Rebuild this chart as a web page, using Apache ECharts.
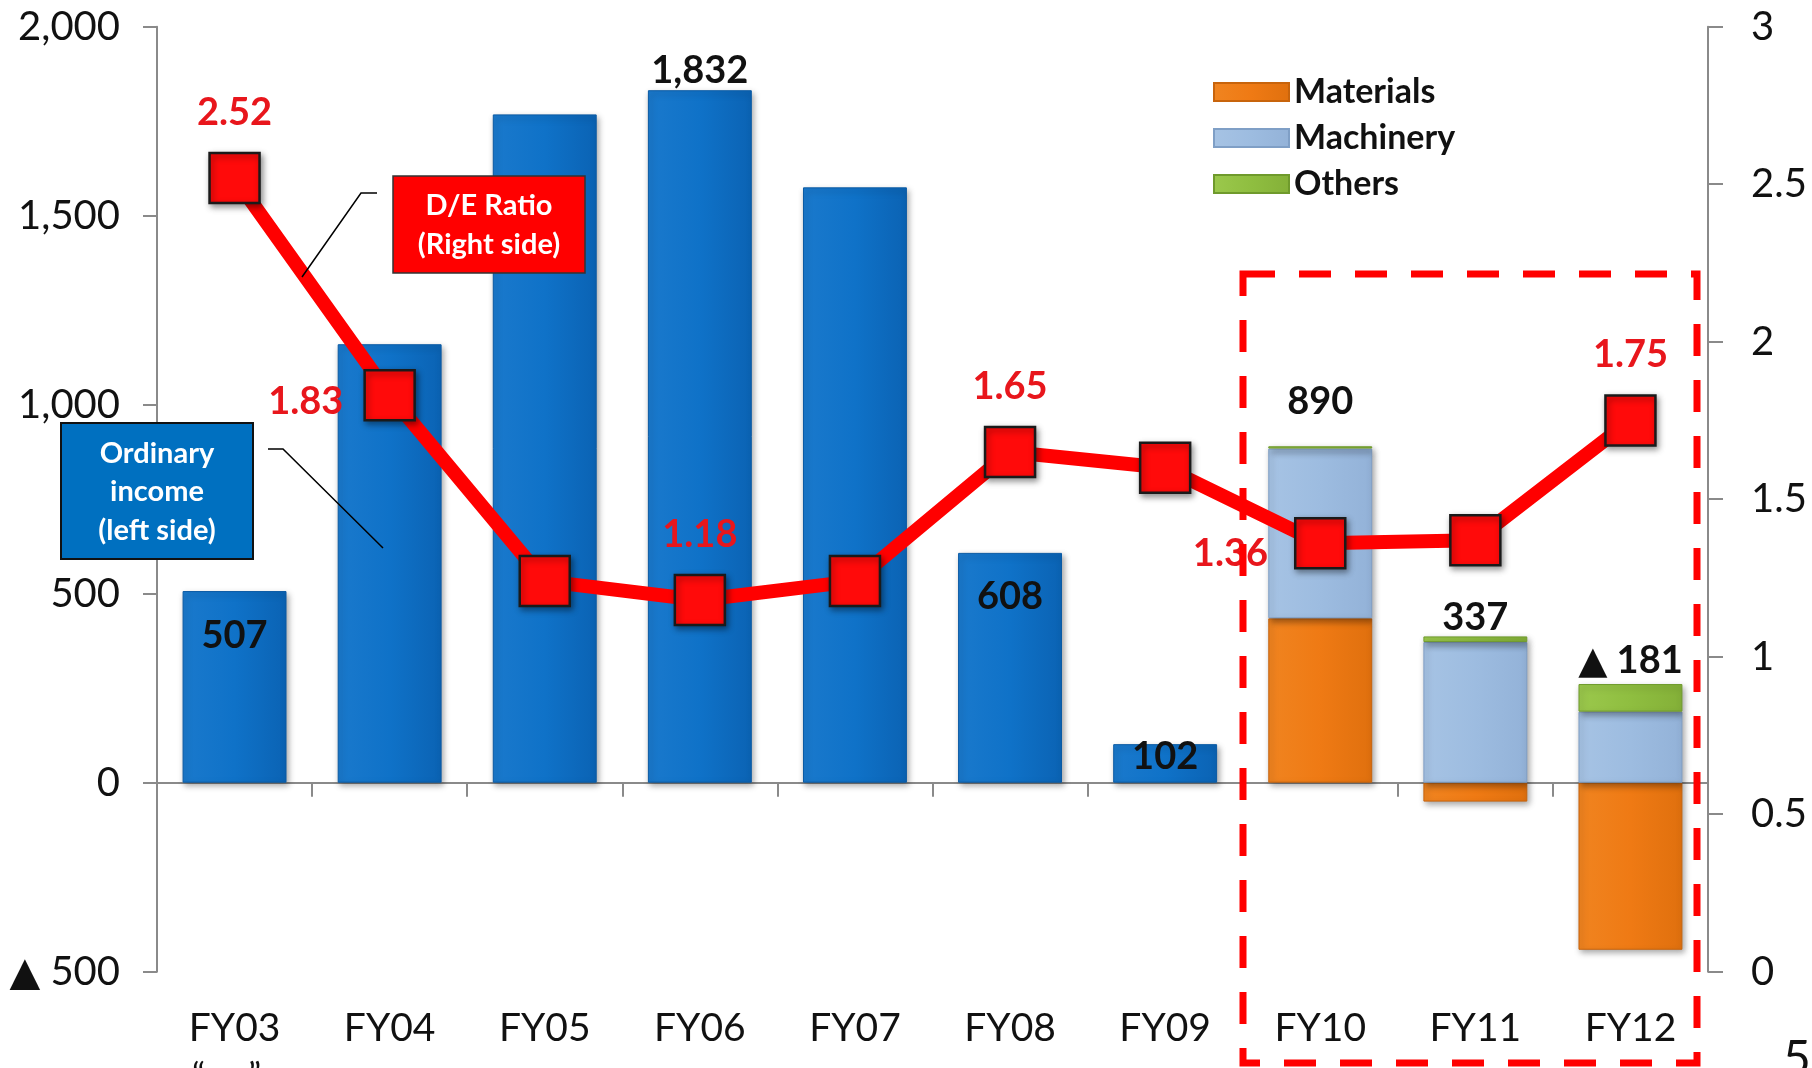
<!DOCTYPE html>
<html>
<head>
<meta charset="utf-8">
<script src="https://cdn.jsdelivr.net/npm/echarts@6/dist/echarts.min.js"></script>
<style>
html,body{margin:0;padding:0;background:#fff;}
#chart{width:1812px;height:1068px;}
</style>
</head>
<body>
<div id="chart"></div>
<script>
// ---- data ----
const categories = ['FY03','FY04','FY05','FY06','FY07','FY08','FY09','FY10','FY11','FY12'];
const ordinaryIncome = [507, 1160, 1768, 1832, 1575, 608, 102, null, null, null];
const materials = [null, null, null, null, null, null, null, 435, -50, -442];
const machinery = [null, null, null, null, null, null, null, 449, 372, 188];
const others    = [null, null, null, null, null, null, null, 6, 15, 73];
const totals    = [null, null, null, null, null, null, null, 890, 337, -181];
const deRatio   = [2.52, 1.83, 1.24, 1.18, 1.24, 1.65, 1.60, 1.36, 1.37, 1.75];
const leftAxisRange = [-500, 2000, 500];
const rightAxisRange = [0, 3, 0.5];

// label placement (style only)
const incomeLabelCfg = {
  0: {position: 'insideTop', distance: 26},
  3: {position: 'top', distance: 0},
  5: {position: 'insideTop', distance: 25},
  6: {position: 'insideTop', distance: -6}
};
const totalLabelCfg = {
  7: {distance: 26},
  8: {distance: 0},
  9: {distance: 4}
};
const deLabelCfg = {
  0: {position: 'top', distance: 20},
  1: {position: 'left', distance: 20, offset: [0, 6]},
  3: {position: 'top', distance: 20},
  5: {position: 'top', distance: 20},
  7: {position: 'left', distance: 26, offset: [0, 10]},
  9: {position: 'top', distance: 20}
};

const FONT = 'Lato, "DejaVu Sans", sans-serif';
const fmtComma = v => String(v).replace(/\B(?=(\d{3})+(?!\d))/g, ',');
const fmtTri = v => v < 0 ? '\u25B2 ' + fmtComma(Math.abs(v)) : fmtComma(v);

const barShadow = {shadowBlur: 6, shadowColor: 'rgba(0,0,0,0.35)', shadowOffsetX: 2, shadowOffsetY: 3};
const barLabelBase = {fontFamily: FONT, fontSize: 38, fontWeight: 'bold', color: '#111'};

function hGrad(c0, c1, c2) {
  return new echarts.graphic.LinearGradient(0, 0, 1, 0, [
    {offset: 0, color: c0}, {offset: 0.5, color: c1}, {offset: 1, color: c2}
  ]);
}

const incomeData = ordinaryIncome.map((v, i) => {
  const c = incomeLabelCfg[i];
  if (v == null) return '-';
  if (!c) return v;
  return {value: v, label: Object.assign({show: true, formatter: p => fmtComma(p.value)}, barLabelBase, c)};
});
const othersData = others.map((v, i) => {
  if (v == null) return '-';
  const c = totalLabelCfg[i];
  return {value: v, label: Object.assign({show: true, position: 'top', formatter: () => fmtTri(totals[i])}, barLabelBase, c)};
});
const deData = deRatio.map((v, i) => {
  const c = deLabelCfg[i];
  if (!c) return v;
  return {value: v, label: Object.assign({show: true, formatter: p => p.value.toFixed(2),
    fontFamily: FONT, fontSize: 38, fontWeight: 'bold', color: '#e8161c'}, c)};
});

const chart = echarts.init(document.getElementById('chart'), null, {renderer: 'canvas'});
const axisGray = '#8a8a8a';

chart.setOption({
  animation: false,
  backgroundColor: '#fff',
  grid: {left: 157, right: 104, top: 26.7, bottom: 96.3, containLabel: false, outerBoundsMode: 'none'},
  legend: {
    data: ['Materials', 'Machinery', 'Others'],
    orient: 'vertical',
    left: 1213, top: 75,
    padding: 0,
    itemWidth: 75, itemHeight: 18, itemGap: 12,
    icon: 'rect',
    textStyle: {fontFamily: FONT, fontSize: 34, fontWeight: 'bold', color: '#111', lineHeight: 34}
  },
  xAxis: [
    {
      type: 'category', data: categories, position: 'bottom',
      axisLine: {show: true, onZero: true, onZeroAxisIndex: 0, lineStyle: {color: axisGray, width: 2}},
      axisTick: {show: true, length: 14, lineStyle: {color: axisGray, width: 2}},
      axisLabel: {show: false},
      splitLine: {show: false}
    },
    {
      type: 'category', data: categories, position: 'bottom',
      axisLine: {show: false, onZero: false},
      axisTick: {show: false},
      axisLabel: {show: true, fontFamily: FONT, fontSize: 39, color: '#111', margin: 37},
      splitLine: {show: false}
    }
  ],
  yAxis: [
    {
      type: 'value', min: leftAxisRange[0], max: leftAxisRange[1], interval: leftAxisRange[2],
      position: 'left',
      axisLine: {show: true, lineStyle: {color: axisGray, width: 2}},
      axisTick: {show: true, length: 14, lineStyle: {color: axisGray, width: 2}},
      axisLabel: {fontFamily: FONT, fontSize: 40, color: '#111', margin: 37, formatter: fmtTri},
      splitLine: {show: false}
    },
    {
      type: 'value', min: rightAxisRange[0], max: rightAxisRange[1], interval: rightAxisRange[2],
      position: 'right',
      axisLine: {show: true, lineStyle: {color: axisGray, width: 2}},
      axisTick: {show: true, length: 15, lineStyle: {color: axisGray, width: 2}},
      axisLabel: {fontFamily: FONT, fontSize: 40, color: '#111', margin: 43, formatter: v => String(v)},
      splitLine: {show: false}
    }
  ],
  series: [
    {
      name: 'Ordinary income', type: 'bar', stack: 'total', data: incomeData,
      barCategoryGap: '33%',
      itemStyle: Object.assign({color: hGrad('#1a79cc', '#0f72c8', '#0b63b4'), borderColor: '#0a5aa4', borderWidth: 1}, barShadow),
      label: {show: false}
    },
    {
      name: 'Materials', type: 'bar', stack: 'total', data: materials.map(v => v == null ? '-' : v),
      itemStyle: Object.assign({color: hGrad('#f08420', '#ef7a14', '#e0700e'), borderColor: '#c8640c', borderWidth: 1}, barShadow)
    },
    {
      name: 'Machinery', type: 'bar', stack: 'total', data: machinery.map(v => v == null ? '-' : v),
      itemStyle: Object.assign({color: hGrad('#a6c3e4', '#9dbce0', '#93b2d8'), borderColor: '#7f9fc6', borderWidth: 1}, barShadow)
    },
    {
      name: 'Others', type: 'bar', stack: 'total', data: othersData,
      itemStyle: Object.assign({color: hGrad('#9bc84c', '#8fbe40', '#84b038'), borderColor: '#6f9a2c', borderWidth: 1}, barShadow)
    },
    {
      name: 'D/E Ratio', type: 'line', yAxisIndex: 1, data: deData, z: 5,
      symbol: 'rect', symbolSize: 50,
      lineStyle: {color: '#ff0000', width: 14},
      itemStyle: {color: '#ff0a0a', borderColor: '#1a1a1a', borderWidth: 2.5,
        shadowBlur: 6, shadowColor: 'rgba(0,0,0,0.4)', shadowOffsetX: 2, shadowOffsetY: 3},
      label: {show: false}
    }
  ],
  graphic: [
    {type: 'rect', z: 50, shape: {x: 1243, y: 274, width: 454, height: 789},
      style: {fill: 'none', stroke: '#ff0000', lineWidth: 7, lineDash: [32, 24]}},
    {type: 'rect', z: 60, shape: {x: 393, y: 176, width: 192, height: 97},
      style: {fill: '#ff0000', stroke: '#333', lineWidth: 1.5}},
    {type: 'text', z: 61, style: {text: 'D/E Ratio\n(Right side)', x: 489, y: 225,
      align: 'center', verticalAlign: 'middle', textAlign: 'center', textVerticalAlign: 'middle',
      fontFamily: FONT, fontSize: 29, fontWeight: 'bold', lineHeight: 39, fill: '#fff'}},
    {type: 'polyline', z: 60, shape: {points: [[377, 193], [361, 193], [302, 277]]},
      style: {fill: 'none', stroke: '#000', lineWidth: 1.5}},
    {type: 'rect', z: 60, shape: {x: 61, y: 423, width: 192, height: 136},
      style: {fill: '#0070c0', stroke: '#111', lineWidth: 2}},
    {type: 'text', z: 61, style: {text: 'Ordinary\nincome\n(left side)', x: 157, y: 492,
      align: 'center', verticalAlign: 'middle', textAlign: 'center', textVerticalAlign: 'middle',
      fontFamily: FONT, fontSize: 29, fontWeight: 'bold', lineHeight: 38.5, fill: '#fff'}},
    {type: 'polyline', z: 60, shape: {points: [[268, 449], [283, 449], [383, 548]]},
      style: {fill: 'none', stroke: '#000', lineWidth: 1.5}},
    {type: 'text', z: 61, style: {text: '5', x: 1783, y: 1036, align: 'left', verticalAlign: 'top',
      fontFamily: FONT, fontSize: 48, fill: '#111'}},
    {type: 'text', z: 61, style: {text: '\u201C', x: 192, y: 1059, align: 'left', verticalAlign: 'top',
      fontFamily: FONT, fontSize: 36, fill: '#111'}},
    {type: 'text', z: 61, style: {text: '\u201D', x: 248, y: 1059, align: 'left', verticalAlign: 'top',
      fontFamily: FONT, fontSize: 36, fill: '#111'}}
  ]
});
</script>
</body>
</html>
